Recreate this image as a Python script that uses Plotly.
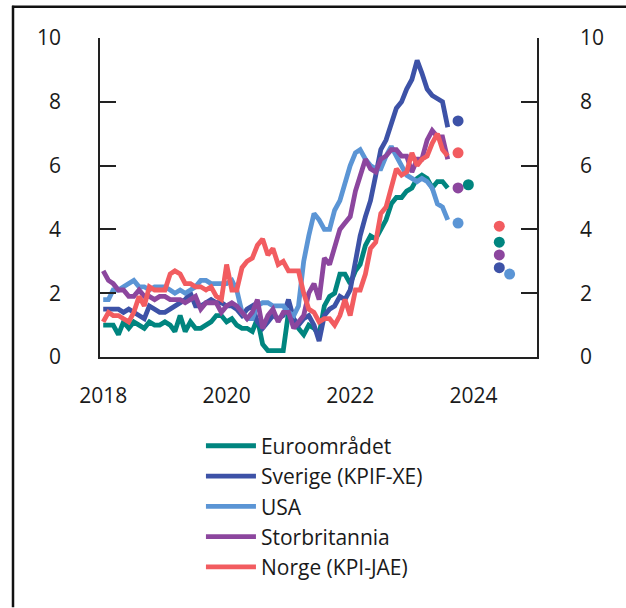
import plotly.graph_objects as go

# monthly dates Jan 2018 - Aug 2023
months = [f"{2018 + i // 12}-{i % 12 + 1:02d}-01" for i in range(68)]

euro = [1.0, 1.0, 1.0, 0.7, 1.1, 0.9, 1.1, 1.0, 0.9, 1.1, 1.0, 1.0,
        1.1, 1.0, 0.8, 1.3, 0.8, 1.1, 0.9, 0.9, 1.0, 1.1, 1.3, 1.3,
        1.1, 1.2, 1.0, 0.9, 0.9, 0.8, 1.2, 0.4, 0.2, 0.2, 0.2, 0.2,
        1.4, 1.1, 0.9, 0.7, 1.0, 0.9, 0.7, 1.6, 1.9, 2.0, 2.6, 2.6,
        2.3, 2.7, 2.9, 3.5, 3.8, 3.7, 4.0, 4.3, 4.8, 5.0, 5.0, 5.2,
        5.3, 5.6, 5.7, 5.6, 5.3, 5.5, 5.5, 5.3]
sverige = [1.5, 1.5, 1.5, 1.5, 1.4, 1.5, 1.4, 1.3, 1.2, 1.6, 1.5, 1.4,
           1.4, 1.5, 1.6, 1.7, 1.8, 2.0, 1.6, 1.6, 1.7, 1.8, 1.7, 1.7,
           1.6, 1.6, 1.5, 1.3, 1.5, 1.6, 1.1, 0.9, 1.1, 1.3, 1.2, 1.3,
           1.8, 1.2, 1.0, 1.2, 1.3, 1.0, 0.5, 1.3, 1.5, 1.6, 1.9, 1.8,
           2.1, 3.0, 3.8, 4.4, 4.9, 5.7, 6.5, 6.8, 7.3, 7.8, 8.0, 8.4,
           8.7, 9.3, 8.9, 8.4, 8.2, 8.1, 8.0, 7.2]
usa = [1.8, 1.8, 2.1, 2.1, 2.2, 2.3, 2.4, 2.2, 2.2, 2.1, 2.2, 2.2,
       2.2, 2.1, 2.0, 2.1, 2.0, 2.1, 2.2, 2.4, 2.4, 2.3, 2.3, 2.3,
       2.3, 2.4, 2.1, 1.4, 1.2, 1.2, 1.6, 1.7, 1.7, 1.6, 1.6, 1.6,
       1.4, 1.3, 1.6, 3.0, 3.8, 4.5, 4.3, 4.0, 4.0, 4.6, 4.9, 5.5,
       6.0, 6.4, 6.5, 6.2, 6.0, 5.9, 5.9, 6.3, 6.6, 6.3, 6.0, 5.7,
       5.6, 5.5, 5.6, 5.5, 5.3, 4.8, 4.7, 4.3]
storbritannia = [2.7, 2.4, 2.3, 2.1, 2.1, 1.9, 1.9, 2.1, 1.9, 1.9, 1.8, 1.9,
                 1.9, 1.8, 1.8, 1.8, 1.7, 1.8, 1.9, 1.5, 1.7, 1.7, 1.7, 1.4,
                 1.6, 1.7, 1.6, 1.4, 1.2, 1.4, 1.8, 0.9, 1.3, 1.5, 1.1, 1.4,
                 1.4, 0.9, 1.1, 1.3, 2.0, 2.3, 1.8, 3.1, 2.9, 3.4, 4.0, 4.2,
                 4.4, 5.2, 5.7, 6.2, 5.9, 5.8, 6.2, 6.3, 6.5, 6.5, 6.3, 6.3,
                 5.8, 6.2, 6.2, 6.8, 7.1, 6.9, 6.9, 6.2]
norge = [1.1, 1.4, 1.3, 1.3, 1.2, 1.1, 1.4, 1.9, 1.6, 2.2, 2.1, 2.1,
         2.1, 2.6, 2.7, 2.6, 2.3, 2.3, 2.2, 2.2, 2.1, 2.2, 1.9, 1.8,
         2.9, 2.1, 2.1, 2.8, 3.0, 3.1, 3.5, 3.7, 3.2, 3.4, 2.9, 3.0,
         2.7, 2.7, 2.7, 2.0, 1.5, 1.4, 1.1, 1.2, 1.2, 1.0, 1.3, 1.8,
         1.3, 2.1, 2.1, 2.6, 3.4, 3.6, 4.5, 4.7, 5.3, 5.9, 5.7, 5.8,
         6.4, 6.0, 6.2, 6.3, 6.7, 7.0, 6.5, 6.3]

# single points to the right of the lines
dot_dates = {
    "Euroområdet": ["2023-12-01", "2024-06-01"],
    "Sverige (KPIF-XE)": ["2023-10-01", "2024-06-01"],
    "USA": ["2023-10-01", "2024-08-01"],
    "Storbritannia": ["2023-10-01", "2024-06-01"],
    "Norge (KPI-JAE)": ["2023-10-01", "2024-06-01"],
}
dot_values = {
    "Euroområdet": [5.4, 3.6],
    "Sverige (KPIF-XE)": [7.4, 2.8],
    "USA": [4.2, 2.6],
    "Storbritannia": [5.3, 3.2],
    "Norge (KPI-JAE)": [6.4, 4.1],
}

y_ticks = [0, 2, 4, 6, 8, 10]

COLORS = {
    "Euroområdet": "#00857f",
    "Sverige (KPIF-XE)": "#3d52a7",
    "USA": "#5b95d5",
    "Storbritannia": "#8c469e",
    "Norge (KPI-JAE)": "#f25c60",
}
series = {
    "Euroområdet": euro,
    "Sverige (KPIF-XE)": sverige,
    "USA": usa,
    "Storbritannia": storbritannia,
    "Norge (KPI-JAE)": norge,
}

FONT = "Open Sans, sans-serif"
AX = "#222222"

fig = go.Figure()
for name, vals in series.items():
    fig.add_trace(go.Scatter(
        x=months, y=vals, name=name, mode="lines",
        line=dict(color=COLORS[name], width=4.8),
    ))
for name in series:
    fig.add_trace(go.Scatter(
        x=dot_dates[name], y=dot_values[name], mode="markers",
        marker=dict(color=COLORS[name], size=11), showlegend=False,
    ))
# invisible trace to carry the right axis
fig.add_trace(go.Scatter(x=[months[0]], y=[0], yaxis="y2", mode="markers",
                         marker=dict(opacity=0), showlegend=False, hoverinfo="skip"))

fig.update_layout(
    width=626, height=608,
    margin=dict(l=100, r=89, t=38, b=251),
    paper_bgcolor="#ffffff", plot_bgcolor="#ffffff",
    font=dict(family=FONT, size=21, color="#1a1a1a"),
    showlegend=True,
    legend=dict(x=0.231, y=-0.215, xanchor="left", yanchor="top", itemwidth=50,
                font=dict(size=21), tracegroupgap=0, bgcolor="rgba(0,0,0,0)"),
    xaxis=dict(
        type="date", range=["2017-12-13", "2025-01-10"],
        tick0="2018-01-01", dtick="M24", tickformat="%Y",
        showgrid=False, zeroline=False, showline=True, linecolor=AX, linewidth=1.5,
        ticks="", ticklabelstandoff=19, tickfont=dict(size=21),
    ),
    yaxis=dict(
        range=[0, 10], tickvals=y_ticks, showgrid=False, zeroline=False,
        showline=True, linecolor=AX, linewidth=1.5,
        ticks="inside", ticklen=16, tickcolor=AX, tickwidth=1.5,
        ticklabelstandoff=33, tickfont=dict(size=21),
    ),
    yaxis2=dict(
        range=[0, 10], tickvals=y_ticks, overlaying="y", side="right",
        showgrid=False, zeroline=False, showline=True, linecolor=AX, linewidth=1.5,
        ticks="inside", ticklen=16, tickcolor=AX, tickwidth=1.5,
        ticklabelstandoff=37, tickfont=dict(size=21),
    ),
    shapes=[
        dict(type="line", xref="paper", yref="paper",
             x0=(12 - 100) / 437, x1=(626 - 100) / 437,
             y0=(357.3 - 6.5) / 319.6, y1=(357.3 - 6.5) / 319.6,
             line=dict(color="#111111", width=2.5)),
        dict(type="line", xref="paper", yref="paper",
             x0=(13 - 100) / 437, x1=(13 - 100) / 437,
             y0=(357.3 - 5.5) / 319.6, y1=(357.3 - 608) / 319.6,
             line=dict(color="#111111", width=2.5)),
    ],
)

fig.write_html("out.html", config={"displayModeBar": False},
               post_script="document.body.style.margin='0';")
